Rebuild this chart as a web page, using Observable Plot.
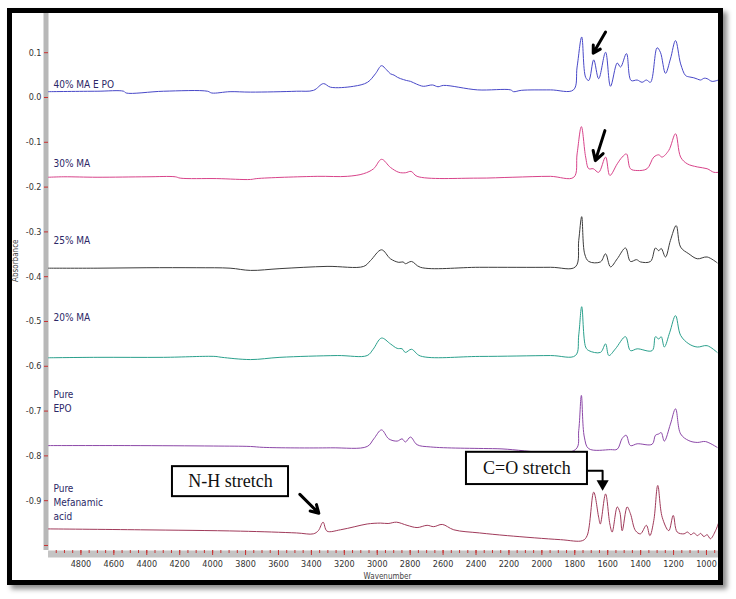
<!DOCTYPE html>
<html><head><meta charset="utf-8">
<script src="https://cdn.jsdelivr.net/npm/d3@7"></script>
<script src="https://cdn.jsdelivr.net/npm/@observablehq/plot@0.6"></script>
<style>
html,body{margin:0;padding:0;background:#fff;}
#wrap{position:relative;width:736px;height:599px;overflow:hidden;background:#fff;}
#wrap svg{position:absolute;left:0;top:0;}
#border{position:absolute;left:7px;top:8px;width:706px;height:567px;border:5px solid #000;box-shadow:4px 4px 5px rgba(0,0,0,0.45);pointer-events:none;z-index:2;}
.narrow text{font-stretch:condensed;}
</style></head><body><div id="wrap"><div id="border"></div></div>
<script>
// ---- data: [wavenumber (cm-1), absorbance] ----
const s40 = [[4997,0.013],[4702,0.014],[4541,0.014],[4525,0.010],[4298,0.014],[4031,0.014],[4005,0.010],[3894,0.013],[3770,0.012],[3490,0.014],[3387,0.016],[3327,0.031],[3284,0.023],[3144,0.025],[3059,0.034],[3011,0.053],[2974,0.071],[2944,0.062],[2920,0.053],[2898,0.050],[2877,0.045],[2858,0.042],[2841,0.040],[2823,0.038],[2798,0.036],[2762,0.030],[2720,0.025],[2665,0.028],[2631,0.024],[2597,0.027],[2391,0.017],[2190,0.017],[2172,0.013],[2125,0.016],[1948,0.017],[1808,0.017],[1786,0.068],[1758,0.135],[1734,0.045],[1715,0.038],[1685,0.084],[1655,0.042],[1613,0.101],[1583,0.025],[1542,0.077],[1522,0.068],[1486,0.098],[1458,0.038],[1421,0.039],[1391,0.034],[1365,0.039],[1340,0.034],[1300,0.111],[1280,0.101],[1249,0.054],[1219,0.086],[1188,0.127],[1157,0.075],[1127,0.049],[1105,0.046],[1077,0.044],[1054,0.041],[1036,0.039],[1014,0.043],[996,0.042],[966,0.036],[927,0.039]];
const s30 = [[4997,-0.178],[4904,-0.177],[4702,-0.178],[4399,-0.177],[4227,-0.177],[4197,-0.180],[3975,-0.181],[3770,-0.183],[3732,-0.181],[3365,-0.176],[3182,-0.176],[3082,-0.170],[3022,-0.159],[2974,-0.138],[2920,-0.156],[2869,-0.167],[2829,-0.168],[2794,-0.165],[2758,-0.176],[2393,-0.180],[2176,-0.178],[1948,-0.176],[1806,-0.178],[1786,-0.126],[1760,-0.065],[1734,-0.133],[1715,-0.159],[1688,-0.159],[1655,-0.167],[1613,-0.133],[1587,-0.174],[1542,-0.148],[1512,-0.133],[1486,-0.126],[1462,-0.159],[1421,-0.163],[1361,-0.159],[1320,-0.133],[1290,-0.128],[1270,-0.133],[1229,-0.118],[1188,-0.081],[1157,-0.133],[1117,-0.148],[1056,-0.155],[996,-0.159],[955,-0.167],[927,-0.167]];
const s25 = [[4997,-0.381],[4702,-0.381],[4399,-0.380],[4096,-0.380],[3894,-0.381],[3770,-0.386],[3591,-0.382],[3305,-0.377],[3082,-0.377],[3041,-0.364],[2974,-0.340],[2920,-0.360],[2869,-0.368],[2843,-0.367],[2829,-0.371],[2792,-0.366],[2738,-0.379],[2378,-0.379],[1948,-0.379],[1796,-0.378],[1776,-0.319],[1758,-0.266],[1740,-0.349],[1715,-0.366],[1644,-0.367],[1613,-0.349],[1583,-0.378],[1542,-0.360],[1492,-0.336],[1462,-0.366],[1425,-0.362],[1401,-0.367],[1340,-0.366],[1310,-0.336],[1290,-0.342],[1275,-0.337],[1249,-0.356],[1219,-0.319],[1184,-0.286],[1157,-0.334],[1107,-0.349],[1056,-0.360],[996,-0.356],[935,-0.369]];
const s20 = [[4997,-0.581],[4702,-0.580],[4298,-0.580],[3985,-0.578],[3944,-0.580],[3770,-0.585],[3591,-0.580],[3243,-0.576],[3061,-0.576],[3025,-0.562],[2974,-0.537],[2920,-0.550],[2879,-0.560],[2849,-0.561],[2829,-0.569],[2792,-0.562],[2738,-0.577],[2378,-0.578],[1948,-0.576],[1796,-0.576],[1776,-0.530],[1758,-0.467],[1734,-0.557],[1715,-0.565],[1644,-0.569],[1613,-0.550],[1593,-0.576],[1553,-0.561],[1492,-0.534],[1462,-0.565],[1421,-0.561],[1330,-0.565],[1310,-0.534],[1290,-0.539],[1275,-0.534],[1256,-0.557],[1223,-0.524],[1188,-0.487],[1157,-0.531],[1107,-0.550],[1056,-0.557],[996,-0.554],[935,-0.569]];
const sEPO = [[4997,-0.777],[4500,-0.777],[3995,-0.778],[3770,-0.779],[3692,-0.781],[3284,-0.782],[3061,-0.779],[3021,-0.762],[2974,-0.742],[2930,-0.762],[2879,-0.767],[2849,-0.762],[2829,-0.769],[2798,-0.758],[2758,-0.775],[2677,-0.780],[2272,-0.784],[1796,-0.786],[1776,-0.743],[1760,-0.665],[1742,-0.758],[1715,-0.784],[1583,-0.786],[1542,-0.785],[1512,-0.761],[1488,-0.754],[1462,-0.777],[1421,-0.773],[1330,-0.774],[1310,-0.754],[1290,-0.751],[1275,-0.748],[1256,-0.767],[1219,-0.729],[1188,-0.695],[1157,-0.751],[1107,-0.766],[1056,-0.770],[1006,-0.768],[935,-0.781]];
const sMef = [[4997,-0.963],[4438,-0.965],[3831,-0.968],[3490,-0.972],[3388,-0.974],[3358,-0.967],[3329,-0.948],[3305,-0.968],[3224,-0.965],[3136,-0.958],[3061,-0.952],[2980,-0.950],[2934,-0.951],[2883,-0.948],[2819,-0.955],[2758,-0.960],[2697,-0.955],[2657,-0.958],[2605,-0.953],[2535,-0.965],[2378,-0.972],[2210,-0.978],[1887,-0.987],[1752,-0.989],[1725,-0.978],[1685,-0.881],[1655,-0.937],[1645,-0.952],[1613,-0.885],[1587,-0.952],[1573,-0.970],[1542,-0.914],[1526,-0.926],[1512,-0.967],[1482,-0.914],[1462,-0.929],[1431,-0.967],[1401,-0.974],[1365,-0.955],[1344,-0.978],[1320,-0.944],[1296,-0.866],[1269,-0.937],[1229,-0.967],[1202,-0.933],[1178,-0.970],[1137,-0.974],[1115,-0.970],[1095,-0.976],[1077,-0.972],[1054,-0.978],[1036,-0.973],[1016,-0.980],[996,-0.976],[976,-0.985],[945,-0.967],[925,-0.948]];

const series = [s40, s30, s25, s20, sEPO, sMef];
const seriesColors = ["#4848c8", "#d8438a", "#3c3c3c", "#2aa08c", "#8c48a8", "#a03a5a"];
const seriesLabels = ["40% MA E PO", "30% MA", "25% MA", "20% MA", "Pure\nEPO", "Pure\nMefanamic\nacid"];
const labelY = [0.031, -0.145, -0.317, -0.490, -0.677, -0.901];

const yTicks = [0.1, 0.0, -0.1, -0.2, -0.3, -0.4, -0.5, -0.6, -0.7, -0.8, -0.9, -1.0];
const xTicks = [4800, 4600, 4400, 4200, 4000, 3800, 3600, 3400, 3200, 3000, 2800, 2600, 2400, 2200, 2000, 1800, 1600, 1400, 1200, 1000];
const xMinor = d3.range(950, 4997, 50);

// annotations (data units)
const nhBox = {x1: 4244, x2: 3539, y1: -0.824, y2: -0.891, x: 3892, y: -0.857, label: "N-H stretch"};
const coBox = {x1: 2458, x2: 1723, y1: -0.792, y2: -0.864, x: 2091, y: -0.828, label: "C=O stretch"};
const arrows = [
  {x1: 1613, y1: 0.146, x2: 1688, y2: 0.099},
  {x1: 1617, y1: -0.074, x2: 1675, y2: -0.141},
  {x1: 3470, y1: -0.886, x2: 3355, y2: -0.928}
];
const coElbow = [[1723, -0.833], [1631, -0.833], [1631, -0.856]];
const coHead = [[1631, -0.862]];

const xDomain = [4997, 927];
const yDomain = [-1.0112, 0.1875];
const narrow = "'Liberation Sans Narrow','DejaVu Sans Condensed','Arial Narrow','Liberation Sans',Arial,sans-serif";

const marks = [
  Plot.ruleX([xDomain[0]], {stroke: "#b8b8b8", strokeWidth: 5, dx: -2.5}),
  Plot.ruleY([yDomain[0]], {stroke: "#c4c4c4", strokeWidth: 7, dy: 3.5}),
  ...series.map((s, i) => Plot.line(s, {x: d => d[0], y: d => d[1], stroke: seriesColors[i], strokeWidth: 1, curve: "catmull-rom"})),
  Plot.text(seriesLabels, {x: () => 4967, y: (d, i) => labelY[i], text: d => d, textAnchor: "start", fill: "#2b2766", fontSize: 10, lineHeight: 1.4, fontFamily: narrow}),
  Plot.axisY({ticks: yTicks, tickSize: 4, stroke: "#c83232", tickFormat: () => "", label: null}),
  Plot.axisY({ticks: yTicks, tickSize: 0, tickPadding: 7, tickFormat: d => (Math.abs(d + 1) < 1e-9 ? "" : d.toFixed(1)), label: null, fontSize: 9, fontFamily: narrow}),
  Plot.axisX({ticks: xMinor, tickSize: 3, stroke: "#c83232", tickFormat: () => "", label: null}),
  Plot.axisX({ticks: xTicks, tickSize: 5, stroke: "#c83232", tickFormat: () => "", label: null}),
  Plot.axisX({ticks: xTicks, tickSize: 0, tickPadding: 10, tickFormat: d => String(d), label: null, fontSize: 9, fontFamily: narrow}),
  Plot.text(["Absorbance"], {frameAnchor: "left", dx: -33, rotate: -90, fontSize: 8, fill: "#444"}),
  Plot.text(["Wavenumber"], {frameAnchor: "bottom", dy: 28, dx: 4, fontSize: 8, fill: "#444", fontFamily: narrow}),
  Plot.rect([nhBox, coBox], {x1: "x1", x2: "x2", y1: "y1", y2: "y2", fill: "white", stroke: "black", strokeWidth: 2}),
  Plot.text([nhBox, coBox], {x: "x", y: "y", text: "label", fontSize: 18, fontFamily: "'Liberation Serif','DejaVu Serif',serif", fill: "#111"}),
  Plot.arrow(arrows, {x1: "x1", y1: "y1", x2: "x2", y2: "y2", stroke: "black", strokeWidth: 3, headLength: 9}),
  Plot.line(coElbow, {x: d => d[0], y: d => d[1], stroke: "black", strokeWidth: 2}),
  Plot.dot(coHead, {x: d => d[0], y: d => d[1], symbol: "triangle", r: 4.5, fill: "black", rotate: 180})
];

const chart = Plot.plot({
  width: 736, height: 599,
  marginLeft: 48, marginRight: 18, marginTop: 13, marginBottom: 49,
  x: {domain: xDomain},
  y: {domain: yDomain},
  className: "narrow",
  style: {background: "transparent", color: "#333", fontFamily: narrow, overflow: "visible"},
  marks
});
document.getElementById("wrap").insertBefore(chart, document.getElementById("border"));
</script></body></html>
